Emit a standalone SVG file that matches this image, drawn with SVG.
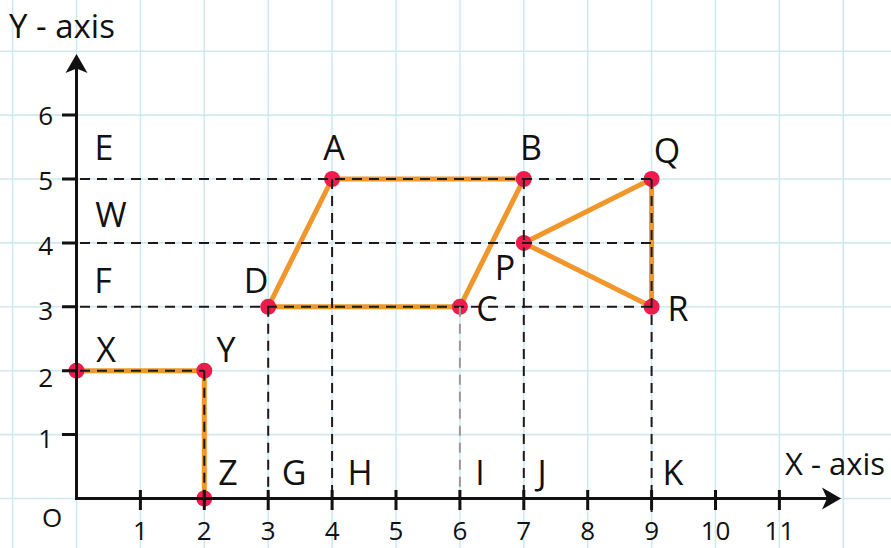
<svg xmlns="http://www.w3.org/2000/svg" width="891" height="548" viewBox="0 0 891 548">
<style>
.grid{stroke:#cdeaf3;stroke-width:1.6;fill:none}
.axis{stroke:#111;stroke-width:3;fill:none}
.tick{stroke:#111;stroke-width:3}
.dash{stroke:#1a1a1a;stroke-width:2;stroke-dasharray:10 7;fill:none}
.dash-light{stroke:#9a9a9a;stroke-width:2;stroke-dasharray:10 7;fill:none}
.edge{stroke:#f0962b;stroke-width:5;stroke-linecap:round;fill:none}
.dot{fill:#ec1c4d}
.lbl{font-family:"Open Sans","Liberation Sans",sans-serif;font-size:34px;fill:#111}
.num{font-family:"Open Sans","Liberation Sans",sans-serif;font-size:26px;fill:#111}
.title{font-family:"Open Sans","Liberation Sans",sans-serif;fill:#111}
</style>
<rect width="891" height="548" fill="#fff"/>
<g id="grid">
<path class="grid" d="M12.6 0V548M76.5 0V548M140.4 0V548M204.3 0V548M268.2 0V548M332.1 0V548M396 0V548M459.9 0V548M523.8 0V548M587.7 0V548M651.6 0V548M715.5 0V548M779.4 0V548M843.3 0V548"/>
<path class="grid" d="M0 51.2H891M0 115.1H891M0 179H891M0 242.9H891M0 306.8H891M0 370.7H891M0 434.6H891M0 498.5H891"/>
</g>
<g id="connectors">
<path class="edge" d="M76.5 370.7H204.3V498.5"/>
<path class="edge" d="M268.2 306.8L332.1 179H523.8L459.9 306.8Z"/>
<path class="edge" d="M523.8 242.9L651.6 179V306.8Z"/>
</g>
<g id="dots">
<circle class="dot" cx="76.5" cy="370.7" r="8"/>
<circle class="dot" cx="204.3" cy="370.7" r="8"/>
<circle class="dot" cx="204.3" cy="498.5" r="8"/>
<circle class="dot" cx="268.2" cy="306.8" r="8"/>
<circle class="dot" cx="332.1" cy="179" r="8"/>
<circle class="dot" cx="523.8" cy="179" r="8"/>
<circle class="dot" cx="459.9" cy="306.8" r="8"/>
<circle class="dot" cx="523.8" cy="242.9" r="8"/>
<circle class="dot" cx="651.6" cy="179" r="8"/>
<circle class="dot" cx="651.6" cy="306.8" r="8"/>
</g>
<g id="guides">
<path class="dash" d="M80 179H651.6M80 242.9H651.6M80 306.8H651.6M80 370.7H204.3"/>
<path class="dash" d="M204.3 370.7V498.5M268.2 306.8V498.5M332.1 179V498.5M523.8 179V498.5M651.6 179V512"/>
<path class="dash-light" d="M459.9 306.8V498.5"/>
</g>
<g id="axes">
<path class="axis" d="M76.5 500V68"/>
<path class="axis" d="M75 498.5H828"/>
<path d="M76.5 54L87.5 73L76.5 68.5L65.5 73Z" fill="#111"/>
<path d="M841 498.5L822 487.5L827 498.5L822 509.5Z" fill="#111"/>
<path class="tick" d="M62 115.1H76.5M62 179H76.5M62 242.9H76.5M62 306.8H76.5M62 370.7H76.5M62 434.6H76.5"/>
<path class="tick" d="M140.4 490V510M204.3 490V510M268.2 490V510M332.1 490V510M396 490V510M459.9 490V510M523.8 490V510M587.7 490V510M651.6 490V510M715.5 490V510M779.4 490V510"/>
<g class="num" text-anchor="end">
<text x="53" y="125">6</text>
<text x="53" y="190">5</text>
<text x="53" y="255">4</text>
<text x="53" y="320">3</text>
<text x="53" y="387">2</text>
<text x="53" y="448">1</text>
</g>
<g class="num" text-anchor="middle">
<text x="140.4" y="540">1</text>
<text x="204.3" y="540">2</text>
<text x="268.2" y="540">3</text>
<text x="332.1" y="540">4</text>
<text x="396" y="540">5</text>
<text x="459.9" y="540">6</text>
<text x="523.8" y="540">7</text>
<text x="587.7" y="540">8</text>
<text x="651.6" y="540">9</text>
<text x="715.5" y="540">10</text>
<text x="779.4" y="540">11</text>
<text x="52" y="527">O</text>
</g>
<text class="title" x="9" y="38" style="font-size:33px">Y - axis</text>
<text class="title" x="785" y="475" style="font-size:31px">X - axis</text>
</g>
<g id="labels" class="lbl" text-anchor="middle">
<text x="104" y="160">E</text>
<text x="111" y="227">W</text>
<text x="103" y="293">F</text>
<text x="106" y="362">X</text>
<text x="226" y="362">Y</text>
<text x="228" y="485">Z</text>
<text x="294" y="485">G</text>
<text x="360" y="485">H</text>
<text x="480" y="485">I</text>
<text x="542" y="485">J</text>
<text x="673" y="485">K</text>
<text x="334" y="160">A</text>
<text x="531" y="160">B</text>
<text x="667" y="163">Q</text>
<text x="505" y="280">P</text>
<text x="256" y="293">D</text>
<text x="487" y="321">C</text>
<text x="678" y="321">R</text>
</g>
</svg>
